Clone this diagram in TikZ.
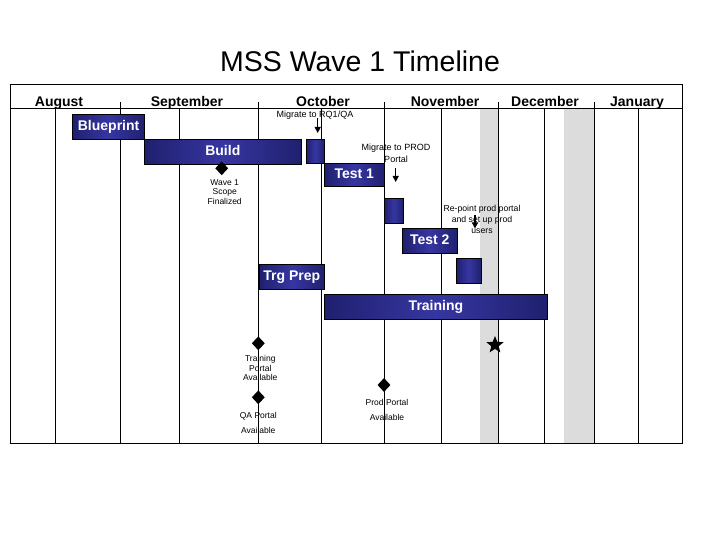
\documentclass[tikz,border=0pt]{standalone}
\usepackage{fontspec}
\setmainfont{Liberation Sans}
\usetikzlibrary{shapes.geometric, arrows.meta, positioning, calc}
\definecolor{barnavy}{HTML}{20206F}
\definecolor{barlite}{HTML}{3636A2}
\definecolor{bandgrey}{HTML}{DCDCDC}

\begin{document}
\begin{tikzpicture}[x=1pt, y=-1pt, font=\fontsize{9}{10.5}\selectfont,
    bar/.style={draw=black, line width=0.6pt, anchor=north west, minimum height=25pt, inner sep=0pt,
        text height=10pt, text depth=2.5pt,
        text=white, font=\fontsize{14}{16}\selectfont\bfseries,
        left color=barnavy, right color=barnavy, middle color=barlite},
    month/.style={anchor=base, font=\fontsize{14}{16}\selectfont\bfseries},
    mile/.style={diamond, fill=black, minimum width=13pt, minimum height=14pt, inner sep=0pt},
    note/.style={align=center, inner sep=0pt, font=\fontsize{8.5}{9.3}\selectfont},
    pin/.style={-{Triangle[width=6pt, length=6pt]}, line width=1.3pt}
]
  \useasboundingbox (0,0) rectangle (720,540);

  % title and frame
  \node[font=\fontsize{28.5}{32}\selectfont, anchor=base] (title) at (360,71.7) {MSS Wave 1 Timeline};
  \fill[bandgrey] (480,108.3) rectangle (498,443.5);
  \fill[bandgrey] (564,108.3) rectangle (594,443.5);
  \draw[line width=0.8pt] (10.5,84.3) rectangle (682.3,443.5);
  \draw[line width=0.8pt] (10.5,108.3) -- (682.3,108.3);
  \foreach \x in {55.7, 120.7, 179, 258, 321.7, 384, 441.7, 498, 544, 594, 638}
    \draw[line width=0.8pt] (\x,108.3) -- (\x,443.5);
  \foreach \x in {120.7, 258, 384, 498, 594}
    \draw[line width=0.8pt] (\x,102.5) -- (\x,108.3);

  \node[month] (aug) at (59,106.5) {August};
  \node[month] (sep) at (187,106.5) {September};
  \node[month] (oct) at (323,106.5) {October};
  \node[month] (nov) at (445,106.5) {November};
  \node[month] (dec) at (545,106.5) {December};
  \node[month] (jan) at (637,106.5) {January};

  % bars
  \node[bar, minimum width=72pt] (blueprint) at (72.3,114.3) {Blueprint};
  \node[bar, minimum width=156.4pt] (build) at (144.3,139.3) {Build};
  \node[bar, minimum width=18pt, minimum height=24pt] (mig1) at (306,139.3) {};
  \node[bar, minimum width=60pt, minimum height=23pt] (test1) at (324,163.3) {Test 1};
  \node[bar, minimum width=18.5pt] (mig2) at (384.2,198.3) {};
  \node[bar, minimum width=54.4pt] (test2) at (402.3,228.3) {Test 2};
  \node[bar, minimum width=24.4pt] (repoint) at (456.3,258.3) {};
  \node[bar, minimum width=65.6pt] (trgprep) at (258.7,264) {Trg Prep};
  \node[bar, minimum width=222.7pt] (training) at (324.3,294) {Training};

  % arrows
  \node[anchor=base] (rq1) at (315,118) {Migrate to RQ1/QA};
  \coordinate (rq1top) at (317.7,118.5);
  \coordinate (rq1tip) at (317.7,133);
  \draw[pin] (rq1top) -- (rq1tip);

  \node[align=center, inner sep=0pt, font=\fontsize{9}{12}\selectfont] (prod) at (396,153) {Migrate to PROD\\Portal};
  \coordinate (prodtop) at (395.7,168.5);
  \coordinate (prodtip) at (395.7,182);
  \draw[pin] (prodtop) -- (prodtip);

  \node[align=center, inner sep=0pt, font=\fontsize{8.7}{11}\selectfont] (repnote) at (482,219.5) {Re-point prod portal\\and set up prod\\users};
  \coordinate (reptop) at (475,215.5);
  \coordinate (reptip) at (475,228.5);
  \draw[pin] (reptop) -- (reptip);

  % milestones
  \node[mile] (wave) at (221.7,168.3) {};
  \node[note, below=4pt of wave, xshift=3pt] (wavetxt) {Wave 1\\Scope\\Finalized};
  \node[mile] (trnportal) at (258.3,343.3) {};
  \node[note, below=5pt of trnportal, xshift=2pt] (trntxt) {Training\\Portal\\Available};
  \node[mile] (qaportal) at (258.3,397.3) {};
  \node[note, below=8pt of qaportal, font=\fontsize{8.5}{15}\selectfont] (qatxt) {QA Portal\\Available};
  \node[mile] (prodportal) at (384,385) {};
  \node[note, below=7pt of prodportal, xshift=3pt, font=\fontsize{8.5}{15}\selectfont] (prodtxt) {Prod Portal\\Available};
  \node[star, star points=5, star point ratio=2.3, fill=black, minimum size=18pt, inner sep=0pt] (golive) at (495,345) {};
\end{tikzpicture}
\end{document}
